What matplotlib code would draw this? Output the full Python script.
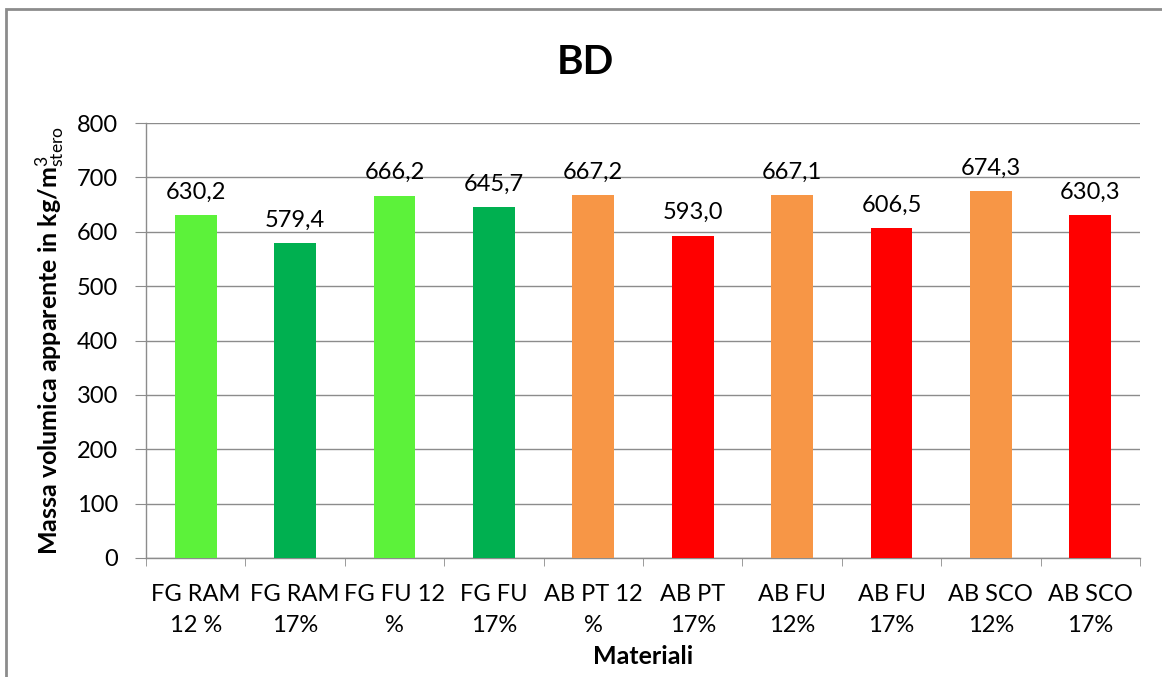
import matplotlib
matplotlib.use("Agg")
import matplotlib.pyplot as plt
from matplotlib.patches import Rectangle
import numpy as np

plt.rcParams['font.family'] = ['Lato', 'DejaVu Sans']
plt.rcParams['mathtext.fontset'] = 'custom'
plt.rcParams['mathtext.rm'] = 'Lato'
plt.rcParams['mathtext.it'] = 'Lato:italic'
plt.rcParams['mathtext.bf'] = 'Lato:bold'

categories = ["FG RAM\n12 %", "FG RAM\n17%", "FG FU 12\n%", "FG FU\n17%",
              "AB PT 12\n%", "AB PT\n17%", "AB FU\n12%", "AB FU\n17%",
              "AB SCO\n12%", "AB SCO\n17%"]
values = [630.2, 579.4, 666.2, 645.7, 667.2, 593.0, 667.1, 606.5, 674.3, 630.3]
colors = ["#5CF23A", "#00B050", "#5CF23A", "#00B050",
          "#F79646", "#FF0000", "#F79646", "#FF0000", "#F79646", "#FF0000"]
yticks = [0, 100, 200, 300, 400, 500, 600, 700, 800]

W, H = 1162, 677
fig = plt.figure(figsize=(W / 100, H / 100), dpi=100)
fig.patch.set_facecolor("white")

# outer chart frame
fig.patches.append(Rectangle((6 / W, -0.05), 1.2, 1 - 9 / H + 0.05,
                             transform=fig.transFigure, fill=False,
                             edgecolor="#8C8C8C", linewidth=2))

ax = fig.add_axes([146 / W, 1 - 558 / H, (1140 - 146) / W, (558 - 123) / H])
x = np.arange(len(values))
bars = ax.bar(x, values, width=0.42, color=colors, zorder=3)

ax.set_xlim(-0.5, len(values) - 0.5)
ax.set_ylim(0, 800)
ax.set_yticks(yticks)
ax.set_yticklabels([str(t) for t in yticks], fontsize=17)
ax.yaxis.grid(True, color="#8C8C8C", linewidth=1, zorder=0)
ax.set_axisbelow(True)

ax.set_xticks(x)
ax.set_xticklabels(categories, fontsize=17, linespacing=1.55)
ax.set_xticks(np.arange(-0.5, len(values) + 0.5, 1), minor=True)
ax.tick_params(axis="x", which="major", length=0, pad=19)
ax.tick_params(axis="x", which="minor", length=6, color="#8C8C8C", direction="out")
ax.tick_params(axis="y", length=8, color="#8C8C8C", direction="out", pad=12)

for s in ["top", "right"]:
    ax.spines[s].set_visible(False)
for s in ["left", "bottom"]:
    ax.spines[s].set_color("#8C8C8C")
    ax.spines[s].set_linewidth(1)

for b, v in zip(bars, values):
    ax.annotate(f"{v:.1f}".replace(".", ","),
                (b.get_x() + b.get_width() / 2, v),
                xytext=(0, 9), textcoords="offset points",
                ha="center", va="bottom", fontsize=17)

ax.set_ylabel(r"Massa volumica apparente in kg/m$^{\mathrm{3}}_{\mathrm{stero}}$",
              fontsize=18, fontweight="bold", labelpad=8)
ax.set_xlabel("Materiali", fontsize=18, fontweight="bold", labelpad=7)

fig.text(585 / W, 1 - 62 / H, "BD", fontsize=29, fontweight="bold",
         ha="center", va="center")

fig.savefig("out.png", dpi=100)
